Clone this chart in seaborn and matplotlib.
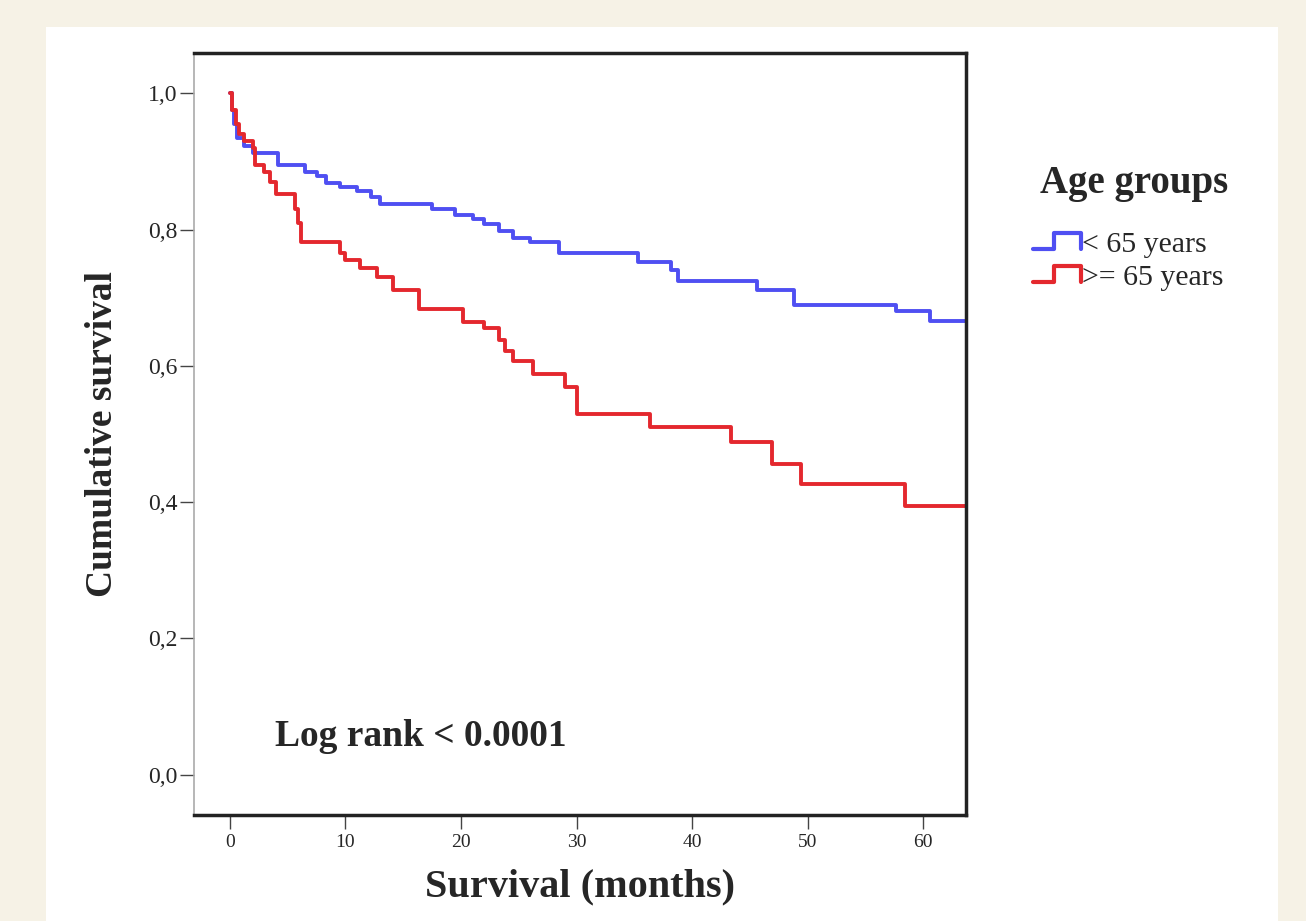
"""
Kaplan-Meier survival curves by age group.
"""
import matplotlib.pyplot as plt
import pandas as pd
import seaborn as sns
from matplotlib.legend_handler import HandlerBase
from matplotlib.lines import Line2D
from matplotlib.patches import Rectangle

sns.set_style('white')
plt.rcParams['font.family'] = ['Liberation Serif', 'DejaVu Serif']

# survival data (months, cumulative survival)
young_months = [0, 0.15, 0.35, 0.6, 1.2, 2.0, 4.2, 6.5, 7.5, 8.3, 9.5, 11.0, 12.2, 13.0,
                17.5, 19.5, 21.0, 22.0, 23.3, 24.5, 26.0, 28.5, 35.3, 38.2, 38.8, 45.6,
                48.8, 57.6, 60.6, 64.0]
young_surv = [1.0, 0.975, 0.955, 0.935, 0.922, 0.912, 0.895, 0.885, 0.878, 0.868, 0.862,
              0.856, 0.847, 0.838, 0.830, 0.822, 0.815, 0.808, 0.798, 0.788, 0.781, 0.765,
              0.752, 0.740, 0.725, 0.712, 0.690, 0.681, 0.666, 0.666]

old_months = [0, 0.2, 0.5, 0.8, 1.2, 2.0, 2.2, 3.0, 3.5, 4.0, 5.6, 5.9, 6.2, 9.5, 10.0,
              11.3, 12.7, 14.1, 16.4, 20.2, 22.0, 23.3, 23.8, 24.5, 26.2, 29.0, 30.0,
              36.4, 43.4, 46.9, 49.4, 58.4, 64.0]
old_surv = [1.0, 0.975, 0.955, 0.94, 0.93, 0.92, 0.895, 0.885, 0.87, 0.852, 0.83, 0.81,
            0.781, 0.765, 0.755, 0.744, 0.730, 0.712, 0.683, 0.665, 0.655, 0.638, 0.622,
            0.607, 0.588, 0.569, 0.530, 0.510, 0.488, 0.456, 0.427, 0.395, 0.395]

groups = ['< 65 years', '>= 65 years']
colors = ['#4f4ff2', '#e4282e']
y_ticks = [0.0, 0.2, 0.4, 0.6, 0.8, 1.0]
x_ticks = [0, 10, 20, 30, 40, 50, 60]

df = pd.concat([
    pd.DataFrame({'months': young_months, 'survival': young_surv, 'group': groups[0]}),
    pd.DataFrame({'months': old_months, 'survival': old_surv, 'group': groups[1]}),
])


class StepHandler(HandlerBase):
    # step-shaped legend glyph like SPSS
    def create_artists(self, legend, orig_handle, xdescent, ydescent, width, height, fontsize, trans):
        x0, y0 = -xdescent, -ydescent
        xs = [x0, x0 + 0.45 * width, x0 + 0.45 * width, x0 + width, x0 + width]
        ys = [y0 + 0.15 * height, y0 + 0.15 * height, y0 + 0.9 * height, y0 + 0.9 * height, y0 + 0.15 * height]
        line = Line2D(xs, ys, color=orig_handle.get_color(), lw=3, transform=trans)
        return [line]


W, H = 1306, 921
fig = plt.figure(figsize=(W / 100, H / 100), dpi=100)
fig.patch.set_facecolor('#f6f2e6')
fig.add_artist(Rectangle((46 / W, 0), (1278 - 46) / W, 1 - 27 / H, transform=fig.transFigure,
                         facecolor='white', edgecolor='none', zorder=-1))

ax = fig.add_axes([194 / W, 1 - 815 / H, (966 - 194) / W, (815 - 53) / H])
sns.lineplot(data=df, x='months', y='survival', hue='group', palette=colors,
             drawstyle='steps-post', estimator=None, lw=2.8, legend=False, ax=ax)

ax.set_xlim(-3.1, 63.7)
ax.set_ylim(-0.059, 1.059)
ax.set_xticks(x_ticks)
ax.set_xticklabels([str(t) for t in x_ticks], fontsize=14)
ax.set_yticks(y_ticks)
ax.set_yticklabels([f'{t:.1f}'.replace('.', ',') for t in y_ticks], fontsize=17)
ax.tick_params(axis='both', which='major', length=10, width=1, color='#444444',
               bottom=True, left=True, direction='out')
ax.tick_params(axis='y', pad=2)
ax.tick_params(axis='x', pad=4)

for side in ['top', 'right', 'bottom']:
    ax.spines[side].set_color('#222222')
    ax.spines[side].set_linewidth(2.5)
ax.spines['left'].set_color('#aaaaaa')
ax.spines['left'].set_linewidth(1.2)

ax.set_xlabel('Survival (months)', fontsize=29, fontweight='bold', labelpad=12)
ax.set_ylabel('Cumulative survival', fontsize=27, fontweight='bold', labelpad=20)

ax.text(3.9, 0.056, 'Log rank < 0.0001', fontsize=27, fontweight='bold', va='center', ha='left')

fig.text(1134 / W, 1 - 184 / H, 'Age groups', ha='center', va='center',
         fontsize=28, fontweight='bold')
handles = [Line2D([], [], color=c) for c in colors]
leg = fig.legend(handles, groups, loc='upper left', bbox_to_anchor=(1018 / W, 1 - 216 / H),
                 frameon=False, fontsize=21.5,
                 handler_map={Line2D: StepHandler()}, handlelength=1.6, handletextpad=0.05,
                 labelspacing=0.2, borderpad=0)

fig.savefig('out.png', dpi=100, facecolor=fig.get_facecolor())
